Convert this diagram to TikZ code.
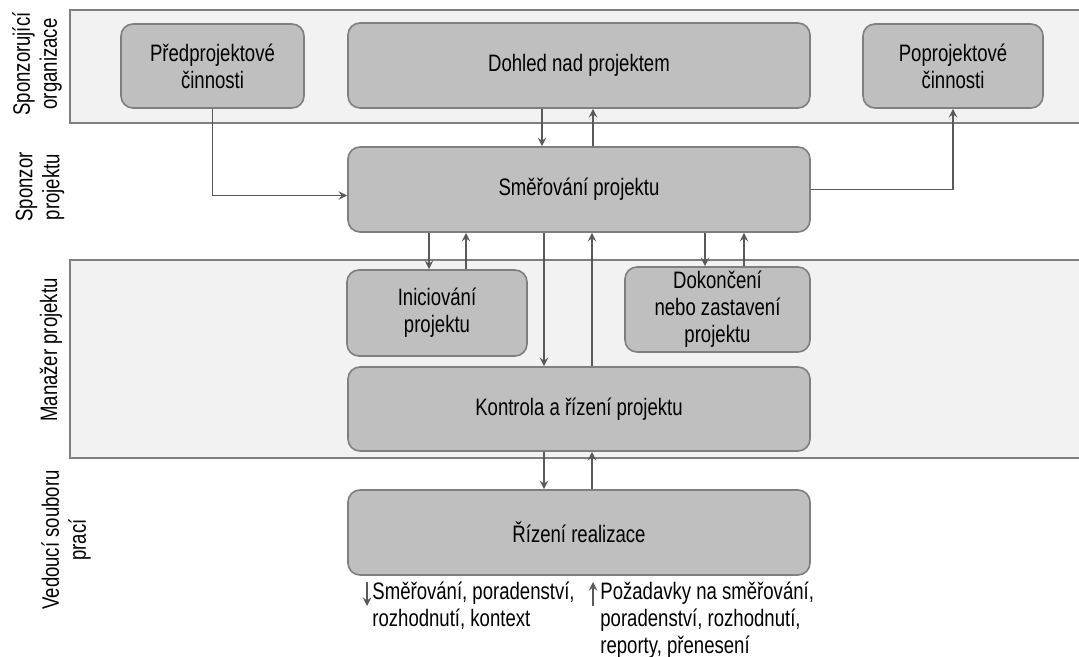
\documentclass[tikz,border=0pt]{standalone}
\usepackage{fontspec}
\setmainfont{Liberation Sans}[FakeStretch=0.78]
\usetikzlibrary{calc}
\newcommand{\DownUpArrows}[4]{
\coordinate (Down#1#2) at (#3,0); % x of the downward arrow
\coordinate (Up#1#2) at (#4,0); % x of the upward arrow
\draw[flow] (#1.south -| Down#1#2) -- (#2.north -| Down#1#2);
\draw[flow] (#2.north -| Up#1#2) -- (#1.south -| Up#1#2);
}
\definecolor{bandgray}{HTML}{F2F2F2}
\definecolor{boxgray}{HTML}{BFBFBF}
\definecolor{edgegray}{HTML}{7F7F7F}
\definecolor{flowgray}{HTML}{595959}

\begin{document}
\begin{tikzpicture}[>=stealth, x=0.5pt, y=-0.5pt,
font=\fontsize{11.9}{13.5}\selectfont,
band/.style={fill=bandgray, draw=edgegray, line width=1pt},
activity/.style={draw=edgegray, fill=boxgray, line width=.8pt, rounded corners=6pt, align=center, inner sep=0},
lane/.style={rotate=90, align=center, inner sep=0},
flow/.style={->, draw=flowgray, line width=.9pt},
]
\useasboundingbox (0,0) rectangle (1079,657);

%%%%%%%%%%%%%%%%%%%%%%%% PASY %%%%%%%%%%%%%%%%%%%%%%%%%%%
\fill[bandgray] (70,10) rectangle (1079,123);
\draw[band, fill=none] (1079,10) -- (70,10) -- (70,123) -- (1079,123);
\fill[bandgray] (70,260) rectangle (1079,458);
\draw[band, fill=none] (1079,260) -- (70,260) -- (70,458) -- (1079,458);

%%%%%%%%% ROLE %%%%%%%%%%%%%
\node[lane] (sponzorg) at (37,64) {Sponzorující\\organizace};
\node[lane] (sponzproj) at (40,187) {Sponzor\\projektu};
\node[lane] (manazer) at (51,350) {Manažer projektu};
\node[lane] (vedouci) at (66,540) {Vedoucí souboru\\prací};

%%%%%%%%%%%%%%%%%%%%%%%% AKTIVITY %%%%%%%%%%%%%%%%%%%%%%%%%%%
\node[activity, minimum width=91.5pt, minimum height=42pt] (pred) at (212.5,66) {Předprojektové\\činnosti};
\node[activity, minimum width=231pt, minimum height=42.5pt] (dohled) at (579,65.5) {Dohled nad projektem};
\node[activity, minimum width=90pt, minimum height=42pt] (popro) at (953,66) {Poprojektové\\činnosti};
\node[activity, minimum width=231pt, minimum height=42.5pt] (smer) at (579,189.5) {Směřování projektu};
\node[activity, minimum width=90pt, minimum height=43pt] (inic) at (437,313) {Iniciování\\projektu};
\node[activity, minimum width=92.5pt, minimum height=42.5pt] (dokon) at (717.5,309.5) {Dokončení\\nebo zastavení\\projektu};
\node[activity, minimum width=231pt, minimum height=42pt] (kontr) at (579,409) {Kontrola a řízení projektu};
\node[activity, minimum width=231pt, minimum height=42.5pt] (realiz) at (579,532.5) {Řízení realizace};

%%%%%%%%%%%%%%%%%%%%%%%% TOKY %%%%%%%%%%%%%%%%%%%%%%%%%%%
\draw[flow] (pred.south) |- ([yshift=-3pt]smer.west);
\draw[flow] (smer.east) -| (popro.south);
\DownUpArrows{dohled}{smer}{542}{593}
\DownUpArrows{smer}{inic}{429}{466}
\DownUpArrows{smer}{dokon}{705}{744}
\DownUpArrows{smer}{kontr}{544}{592}
\DownUpArrows{kontr}{realiz}{544}{592}

%%%%%%%%% LEGENDA %%%%%%%%%%%%%
\node[anchor=north west, align=left, inner sep=0] (legdown) at (372,582) {Směřování, poradenství,\\rozhodnutí, kontext};
\node[anchor=north west, align=left, inner sep=0] (legup) at (600,582) {Požadavky na směřování,\\poradenství, rozhodnutí,\\reporty, přenesení};
\coordinate (legdownStart) at (367,582);
\coordinate (legdownEnd) at (367,606);
\coordinate (legupStart) at (593,606);
\coordinate (legupEnd) at (593,582);
\draw[flow] (legdownStart) -- (legdownEnd);
\draw[flow] (legupStart) -- (legupEnd);

\end{tikzpicture}
\end{document}
